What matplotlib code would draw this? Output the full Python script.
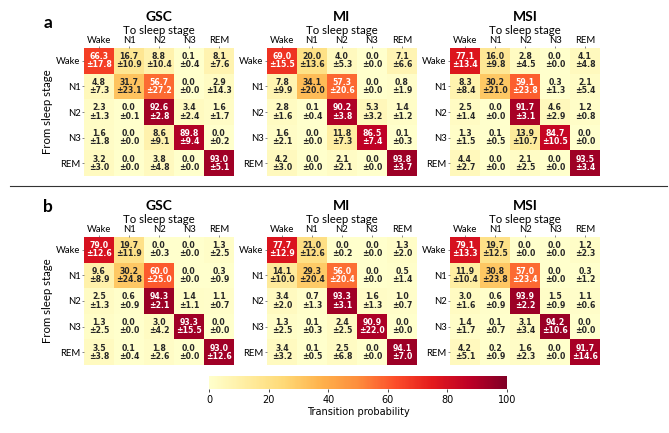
import matplotlib
matplotlib.use('Agg')
import matplotlib.pyplot as plt
import numpy as np

stages = ['Wake', 'N1', 'N2', 'N3', 'REM']
models = ['GSC', 'MI', 'MSI']

# panel a
a_gsc_mean = [[66.3, 16.7, 8.8, 0.1, 8.1],
              [4.8, 31.7, 56.7, 0.0, 2.9],
              [2.3, 0.0, 92.6, 3.4, 1.6],
              [1.6, 0.0, 8.6, 89.8, 0.0],
              [3.2, 0.0, 3.8, 0.0, 93.0]]
a_gsc_std = [[17.8, 10.9, 10.4, 0.4, 7.6],
             [7.3, 23.1, 27.2, 0.0, 14.3],
             [1.3, 0.1, 2.8, 2.4, 1.7],
             [1.8, 0.0, 9.1, 9.4, 0.2],
             [3.0, 0.0, 4.8, 0.0, 5.1]]
a_mi_mean = [[69.0, 20.0, 4.0, 0.0, 7.1],
             [7.8, 34.1, 57.3, 0.0, 0.8],
             [2.8, 0.1, 90.2, 5.3, 1.4],
             [1.6, 0.0, 11.8, 86.5, 0.1],
             [4.2, 0.0, 2.1, 0.0, 93.8]]
a_mi_std = [[15.5, 13.6, 5.3, 0.0, 6.6],
            [9.9, 20.0, 20.6, 0.0, 1.9],
            [1.6, 0.4, 3.8, 3.2, 1.2],
            [2.1, 0.0, 7.3, 7.4, 0.3],
            [3.0, 0.0, 2.1, 0.0, 3.7]]
a_msi_mean = [[77.1, 16.0, 2.8, 0.0, 4.1],
              [8.3, 30.2, 59.1, 0.3, 2.1],
              [2.5, 0.0, 91.7, 4.6, 1.2],
              [1.3, 0.1, 13.9, 84.7, 0.0],
              [4.4, 0.0, 2.1, 0.0, 93.5]]
a_msi_std = [[13.4, 9.8, 4.5, 0.0, 4.8],
             [8.4, 21.0, 23.8, 1.3, 5.4],
             [1.4, 0.0, 3.1, 2.9, 0.8],
             [1.5, 0.5, 10.7, 10.5, 0.0],
             [2.7, 0.0, 2.5, 0.0, 3.4]]

# panel b
b_gsc_mean = [[79.0, 19.7, 0.0, 0.0, 1.3],
              [9.6, 30.2, 60.0, 0.0, 0.3],
              [2.5, 0.6, 94.3, 1.4, 1.1],
              [1.3, 0.0, 3.0, 93.3, 0.0],
              [3.5, 0.1, 1.8, 0.0, 93.0]]
b_gsc_std = [[12.6, 11.9, 0.3, 0.0, 2.5],
             [8.9, 24.8, 25.0, 0.0, 0.9],
             [1.3, 0.9, 2.1, 1.1, 0.7],
             [2.5, 0.0, 4.2, 15.5, 0.0],
             [3.8, 0.4, 2.6, 0.0, 12.6]]
b_mi_mean = [[77.7, 21.0, 0.0, 0.0, 1.3],
             [14.1, 29.3, 56.0, 0.0, 0.5],
             [3.4, 0.7, 93.3, 1.6, 1.0],
             [1.3, 0.1, 2.4, 90.9, 0.0],
             [3.4, 0.1, 2.5, 0.0, 94.1]]
b_mi_std = [[12.9, 12.6, 0.2, 0.0, 2.0],
            [10.0, 20.4, 20.4, 0.0, 1.4],
            [2.0, 1.3, 3.1, 1.3, 0.7],
            [2.5, 0.3, 2.5, 22.0, 0.0],
            [3.2, 0.5, 6.8, 0.0, 7.0]]
b_msi_mean = [[79.1, 19.7, 0.0, 0.0, 1.2],
              [11.9, 30.8, 57.0, 0.0, 0.3],
              [3.0, 0.6, 93.9, 1.5, 1.1],
              [1.4, 0.1, 3.1, 94.2, 0.0],
              [4.2, 0.2, 1.6, 0.0, 91.7]]
b_msi_std = [[13.3, 12.5, 0.0, 0.0, 2.3],
             [10.4, 23.8, 23.4, 0.0, 1.2],
             [1.6, 0.9, 2.2, 0.9, 0.6],
             [1.7, 0.7, 3.4, 10.6, 0.0],
             [5.1, 0.9, 2.3, 0.0, 14.6]]

panels = {
    'a': [(a_gsc_mean, a_gsc_std), (a_mi_mean, a_mi_std), (a_msi_mean, a_msi_std)],
    'b': [(b_gsc_mean, b_gsc_std), (b_mi_mean, b_mi_std), (b_msi_mean, b_msi_std)],
}

LABEL_FONT = 'Lato'
W, H = 669, 433

fig = plt.figure(figsize=(W / 100, H / 100), dpi=100)
cmap = plt.get_cmap('YlOrRd')

# pixel layout
x_left = [84, 267, 450]
ax_w = 150
row_top = {'a': 48, 'b': 237}
letter_y = {'a': 23, 'b': 207}
ax_h = 128


def draw_heatmap(ax, mean, std, title, first):
    mean = np.array(mean)
    std = np.array(std)
    im = ax.imshow(mean, cmap=cmap, vmin=0, vmax=100, aspect='auto')
    for i in range(5):
        for j in range(5):
            c = 'white' if mean[i, j] > 50 else '#262626'
            ax.text(j, i, f'{mean[i, j]:.1f}\n±{std[i, j]:.1f}', ha='center', va='center',
                    fontsize=5.6, fontweight='bold', color=c, linespacing=0.9)
    ax.set_xticks(range(5))
    ax.set_yticks(range(5))
    ax.set_xticklabels(stages, fontsize=6.8, family=LABEL_FONT)
    ax.set_yticklabels(stages, fontsize=6.8, family=LABEL_FONT, rotation=0)
    ax.xaxis.tick_top()
    ax.xaxis.set_label_position('top')
    ax.tick_params(length=1.5, width=0.5, pad=1, color='#555555')
    ax.set_xlabel('To sleep stage', fontsize=8.2, family=LABEL_FONT, labelpad=0.8)
    ax.set_title(title, fontsize=10, fontweight='bold', family=LABEL_FONT, pad=3)
    if first:
        ax.set_ylabel('From sleep stage', fontsize=8.2, family=LABEL_FONT, labelpad=2.5)
    for s in ax.spines.values():
        s.set_visible(False)
    return im


im = None
for key, items in panels.items():
    top = row_top[key]
    for k, (mean, std) in enumerate(items):
        ax = fig.add_axes([x_left[k] / W, 1 - (top + ax_h) / H, ax_w / W, ax_h / H])
        im = draw_heatmap(ax, mean, std, models[k], k == 0)
    fig.text(48 / W, 1 - letter_y[key] / H, key, fontsize=12.5, fontweight='bold',
             family=LABEL_FONT, va='center', ha='center')

# separator between the panels
fig.add_artist(plt.Line2D([10 / W, 667 / W], [1 - 186 / H, 1 - 186 / H],
                          color='#333333', lw=0.8))

cax = fig.add_axes([209 / W, 1 - 389 / H, 298 / W, 13 / H])
cb = fig.colorbar(im, cax=cax, orientation='horizontal', ticks=[0, 20, 40, 60, 80, 100])
cb.outline.set_visible(False)
cb.ax.tick_params(labelsize=7, length=2, width=0.5, pad=2)
cb.set_label('Transition probability', fontsize=7, labelpad=2)

fig.savefig('out.png', dpi=100)
